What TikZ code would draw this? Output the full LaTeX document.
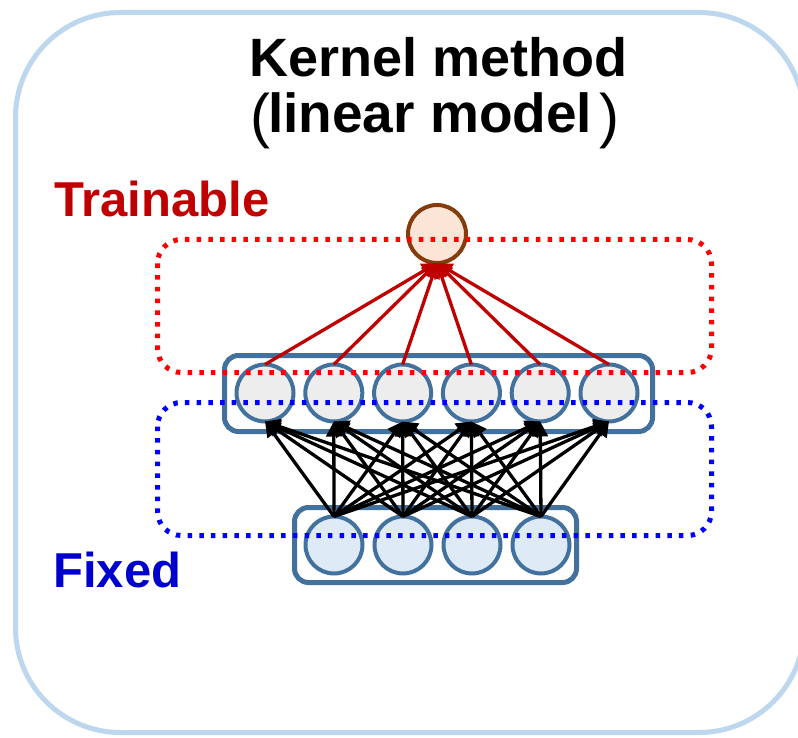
\documentclass[tikz,border=0pt]{standalone}
\usepackage{fontspec}
\setmainfont{Liberation Sans}
\usetikzlibrary{arrows.meta}
\definecolor{outerc}{HTML}{BDD7EE}
\definecolor{boxc}{HTML}{41719C}
\definecolor{midfill}{HTML}{EDEDED}
\definecolor{botfill}{HTML}{DEEBF7}
\definecolor{topfill}{HTML}{FBE5D6}
\definecolor{topdraw}{HTML}{843C0C}
\definecolor{trainc}{HTML}{C00000}
\definecolor{fixc}{HTML}{0000CC}
\definecolor{reddot}{HTML}{FF0000}
\definecolor{bluedot}{HTML}{0000FF}
\tikzset{
  neuron/.style={circle, draw=boxc, line width=4pt, minimum size=57pt, inner sep=0pt, outer sep=0pt},
  midneuron/.style={neuron, fill=midfill},
  botneuron/.style={neuron, fill=botfill},
  topneuron/.style={circle, draw=topdraw, fill=topfill, line width=4pt, minimum size=58pt, inner sep=0pt, outer sep=0pt},
  layerbox/.style={draw=boxc, line width=5pt, rounded corners=14pt},
  dotbox/.style={line width=5pt, dash pattern=on 4.5pt off 7.2pt, rounded corners=24pt},
  blackarrow/.style={draw=black, line width=3.3pt, -{Triangle[length=15pt,width=15pt]}},
  redarrow/.style={draw=trainc, line width=3.3pt, -{Triangle[length=15pt,width=15pt]}},
  titletext/.style={inner sep=0pt, anchor=base west, font=\fontsize{54}{60}\selectfont\bfseries},
  parentext/.style={inner sep=0pt, anchor=base west, font=\fontsize{60}{66}\selectfont},
  sidetext/.style={inner sep=0pt, anchor=base west, font=\fontsize{49}{56}\selectfont\bfseries}
}
\begin{document}
\begin{tikzpicture}[x=1pt,y=-1pt]
\useasboundingbox (0,0) rectangle (798,738);
\clip (0,0) rectangle (798,738);
\fill[white] (0,0) rectangle (798,738);
% outer frame
\draw[outerc, line width=5pt, rounded corners=105pt] (15.5,12.5) rectangle (804,732.5);
% titles
\node[titletext] (t1) at (249,77) {Kernel method};
\node[parentext] (pl) at (250,137) {(};
\node[titletext, font=\fontsize{55}{60}\selectfont\bfseries] (t2) at (268,133) {linear model};
\node[parentext] (pr) at ([xshift=7pt,yshift=-4pt]t2.base east) {)};
\node[sidetext, text=trainc] (tr) at (54,217) {Trainable};
\node[sidetext, text=fixc] (fx) at (53,587) {Fixed};
% layer boxes
\draw[layerbox] (224.5,355.5) rectangle (652.5,431.5);
\draw[layerbox] (294.5,507.5) rectangle (576.5,582.5);
% neurons
\node[topneuron] (top) at (437,234) {};
\foreach \j in {1,...,6} {
  \node[midneuron] (m\j) at ({265+68.8*(\j-1)},393) {};
}
\foreach \i in {1,...,4} {
  \node[botneuron] (b\i) at ({334+69*(\i-1)},545) {};
}
% connections
\foreach \i in {1,...,4} {
  \foreach \j in {1,...,6} {
    \draw[blackarrow] (b\i.north) -- (m\j.south);
  }
}
\foreach \j in {1,...,6} {
  \draw[redarrow] (m\j.north) -- (top.south);
}
% dotted regions
\draw[dotbox, draw=reddot] (157.5,239.5) rectangle (711.5,372.5);
\draw[dotbox, draw=bluedot] (157.5,402.5) rectangle (711.5,535.5);
\end{tikzpicture}
\end{document}
